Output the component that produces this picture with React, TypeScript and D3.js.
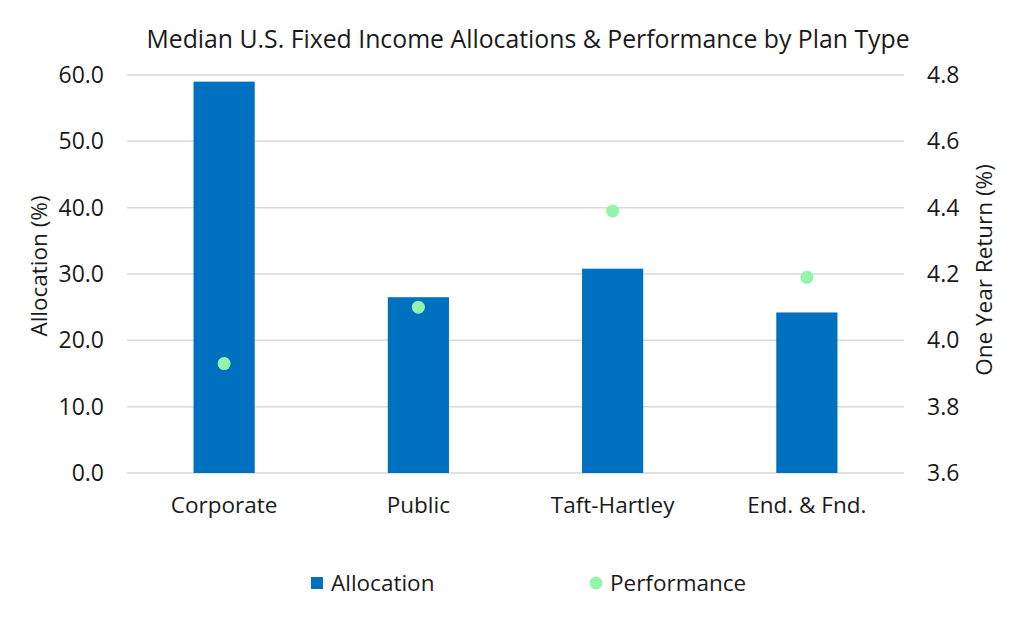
import { useEffect, useRef } from 'react'
import * as d3 from 'd3'

const planTypes = ['Corporate', 'Public', 'Taft-Hartley', 'End. & Fnd.']
const allocation = [59.0, 26.5, 30.8, 24.2]
const performance = [3.93, 4.1, 4.39, 4.19]
const leftTicks = [0, 10, 20, 30, 40, 50, 60]
const rightTicks = [3.6, 3.8, 4.0, 4.2, 4.4, 4.6, 4.8]

const W = 1024
const H = 621
const FONT = '"Open Sans", sans-serif'
const BAR = '#0070c0'
const DOT = '#93f5a9'
const GRID = '#d9d9d9'
const TEXT = '#1a1a1a'

export default function App() {
  const svgRef = useRef<SVGSVGElement>(null)

  useEffect(() => {
    document.body.style.margin = '0'
    if (!svgRef.current) return
    const svg = d3.select(svgRef.current)
    svg.selectAll('*').remove()

    const margin = { top: 75, right: 120, bottom: 148, left: 127 }
    const w = W - margin.left - margin.right
    const h = H - margin.top - margin.bottom

    const g = svg.append('g').attr('transform', `translate(${margin.left},${margin.top})`)

    const x = d3.scaleBand().domain(planTypes).range([0, w]).padding(0)
    const yL = d3.scaleLinear().domain([0, 60]).range([h, 0])
    const yR = d3.scaleLinear().domain([3.6, 4.8]).range([h, 0])
    const barW = x.bandwidth() * 0.315

    // Gridlines
    g.selectAll('line.grid')
      .data(leftTicks)
      .join('line')
      .attr('class', 'grid')
      .attr('x1', 0)
      .attr('x2', w)
      .attr('y1', (d) => yL(d))
      .attr('y2', (d) => yL(d))
      .attr('stroke', GRID)
      .attr('stroke-width', 1.5)

    // Bars
    g.selectAll('rect.bar')
      .data(allocation)
      .join('rect')
      .attr('class', 'bar')
      .attr('x', (_, i) => (x(planTypes[i]) || 0) + x.bandwidth() / 2 - barW / 2)
      .attr('width', barW)
      .attr('y', (d) => yL(d))
      .attr('height', (d) => h - yL(d))
      .attr('fill', BAR)

    // Performance dots
    g.selectAll('circle.dot')
      .data(performance)
      .join('circle')
      .attr('class', 'dot')
      .attr('cx', (_, i) => (x(planTypes[i]) || 0) + x.bandwidth() / 2)
      .attr('cy', (d) => yR(d))
      .attr('r', 6.5)
      .attr('fill', DOT)

    // Left axis
    const left = g.append('g').call(
      d3.axisLeft(yL).tickValues(leftTicks).tickSize(0).tickPadding(23).tickFormat((d) => d3.format('.1f')(d as number))
    )
    left.select('.domain').remove()
    left.selectAll('text').attr('font-family', FONT).attr('font-size', 23).attr('fill', TEXT)

    // Right axis
    const right = g
      .append('g')
      .attr('transform', `translate(${w},0)`)
      .call(d3.axisRight(yR).tickValues(rightTicks).tickSize(0).tickPadding(23).tickFormat((d) => d3.format('.1f')(d as number)))
    right.select('.domain').remove()
    right.selectAll('text').attr('font-family', FONT).attr('font-size', 23).attr('fill', TEXT)

    // Category axis
    const bottom = g
      .append('g')
      .attr('transform', `translate(0,${h})`)
      .call(d3.axisBottom(x).tickSize(0).tickPadding(24))
    bottom.select('.domain').remove()
    bottom.selectAll('text').attr('font-family', FONT).attr('font-size', 22.5).attr('fill', TEXT)

    // Axis titles
    svg
      .append('text')
      .attr('transform', `translate(47,266) rotate(-90)`)
      .attr('text-anchor', 'middle')
      .attr('font-family', FONT)
      .attr('font-size', 22.5)
      .attr('fill', TEXT)
      .text('Allocation (%)')

    svg
      .append('text')
      .attr('transform', `translate(992,270) rotate(-90)`)
      .attr('text-anchor', 'middle')
      .attr('font-family', FONT)
      .attr('font-size', 22.5)
      .attr('fill', TEXT)
      .text('One Year Return (%)')

    // Title
    svg
      .append('text')
      .attr('x', 528)
      .attr('y', 48)
      .attr('text-anchor', 'middle')
      .attr('font-family', FONT)
      .attr('font-size', 24.8)
      .attr('fill', TEXT)
      .text('Median U.S. Fixed Income Allocations & Performance by Plan Type')

    // Legend
    const legend = svg.append('g').attr('transform', 'translate(0,583)')
    legend.append('rect').attr('x', 311).attr('y', -6).attr('width', 12).attr('height', 12).attr('fill', BAR)
    legend
      .append('text')
      .attr('x', 331)
      .attr('y', 8)
      .attr('font-family', FONT)
      .attr('font-size', 22.5)
      .attr('fill', TEXT)
      .text('Allocation')
    legend.append('circle').attr('cx', 596).attr('cy', 0).attr('r', 6.5).attr('fill', DOT)
    legend
      .append('text')
      .attr('x', 610)
      .attr('y', 8)
      .attr('font-family', FONT)
      .attr('font-size', 22.5)
      .attr('fill', TEXT)
      .text('Performance')
  }, [])

  return <svg ref={svgRef} width={W} height={H} style={{ display: 'block', background: '#fff' }} />
}
